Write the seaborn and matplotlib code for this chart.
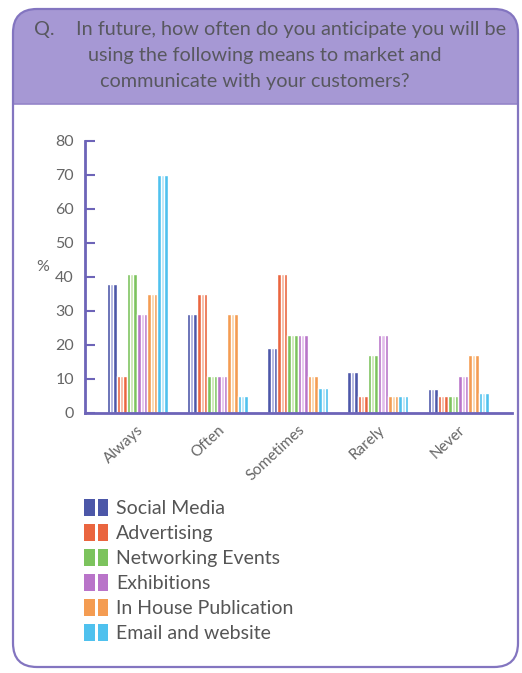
import matplotlib
matplotlib.use("Agg")
import matplotlib.pyplot as plt
from matplotlib.patches import FancyBboxPatch, Rectangle, Patch
from matplotlib.legend_handler import HandlerTuple
import seaborn as sns
import pandas as pd

# Survey answers (% of respondents)
frequencies = ["Always", "Often", "Sometimes", "Rarely", "Never"]
channels = ["Social Media", "Advertising", "Networking Events",
            "Exhibitions", "In House Publication", "Email and website"]
social_media = [38, 29, 19, 12, 7]
advertising = [11, 35, 41, 5, 5]
networking_events = [41, 11, 23, 17, 5]
exhibitions = [29, 11, 23, 23, 11]
in_house_publication = [35, 29, 11, 5, 17]
email_and_website = [70, 5, 7.5, 5, 6]
y_ticks = [0, 10, 20, 30, 40, 50, 60, 70, 80]

series = [social_media, advertising, networking_events,
          exhibitions, in_house_publication, email_and_website]
df = pd.DataFrame(
    [(f, ch, v) for ch, vals in zip(channels, series) for f, v in zip(frequencies, vals)],
    columns=["frequency", "channel", "percent"],
)

dark = ["#4c57a8", "#ea653f", "#7cc35d", "#b974c9", "#f49c52", "#4fc1ee"]
light = ["#a7acdc", "#f6b29b", "#c6e6ad", "#e2bdea", "#fad2a6", "#b1e4f8"]

sns.set_theme(style="white")
plt.rcParams["font.family"] = ["Lato", "DejaVu Sans"]

W, H = 522, 673
fig = plt.figure(figsize=(W / 100, H / 100), dpi=100)

# Background panel in pixel units
bg = fig.add_axes([0, 0, 1, 1])
bg.set_xlim(0, W)
bg.set_ylim(H, 0)
bg.axis("off")

frame_col = "#8375c0"
band_col = "#a698d4"
bg.add_patch(FancyBboxPatch((13, 9), 505, 658, boxstyle="round,pad=0,rounding_size=24",
                            fc="white", ec="none", zorder=0))
bg.add_patch(FancyBboxPatch((13, 9), 505, 150, boxstyle="round,pad=0,rounding_size=24",
                            fc=band_col, ec="none", zorder=1))
bg.add_patch(Rectangle((14, 104), 503, 80, fc="white", ec="none", zorder=2))
bg.plot([13, 518], [104, 104], color="#9585c9", lw=1.2, zorder=3)
bg.add_patch(FancyBboxPatch((13, 9), 505, 658, boxstyle="round,pad=0,rounding_size=24",
                            fc="none", ec=frame_col, lw=1.6, zorder=4))

title_col = "#58585f"
tkw = dict(fontsize=14.3, color=title_col, va="center", zorder=5)
bg.text(34, 30, "Q.", ha="left", **tkw)
bg.text(291, 30, "In future, how often do you anticipate you will be", ha="center", **tkw)
bg.text(265, 56, "using the following means to market and", ha="center", **tkw)
bg.text(255, 82, "communicate with your customers?", ha="center", **tkw)

# Main chart
ax = fig.add_axes([85 / W, 1 - 413 / H, (512 - 85) / W, (413 - 141) / H])
ax.set_facecolor("none")

sns.barplot(data=df, x="frequency", y="percent", hue="channel", order=frequencies,
            hue_order=channels, palette=dark, width=0.76, gap=0, legend=False,
            saturation=1, ax=ax)
n_solid = len(ax.patches)
sns.barplot(data=df, x="frequency", y="percent", hue="channel", order=frequencies,
            hue_order=channels, palette=light, width=0.76, gap=0, legend=False,
            saturation=1, ax=ax)
# narrow highlight stripe down the middle of each bar
for p in ax.patches[n_solid:]:
    w = p.get_width()
    p.set_x(p.get_x() + w * 0.35)
    p.set_width(w * 0.30)

ax.set_xlim(-0.648, 4.67)
ax.set_ylim(0, 80)
ax.set_yticks(y_ticks)
ax.set_yticklabels([str(t) for t in y_ticks], fontsize=11.5, color="#666666")
spine_col = "#6d64b8"
for s in ["top", "right"]:
    ax.spines[s].set_visible(False)
for s in ["left", "bottom"]:
    ax.spines[s].set_color(spine_col)
    ax.spines[s].set_linewidth(2)
ax.tick_params(axis="y", direction="in", length=7, width=1.5, color=spine_col, pad=8, left=True)
ax.tick_params(axis="x", length=0, pad=7)
ax.set_xticks(range(len(frequencies)))
ax.set_xticklabels(frequencies, rotation=43, ha="right", rotation_mode="anchor",
                   fontsize=11, color="#666666")
ax.set_xlabel("")
ax.set_ylabel("%", rotation=0, fontsize=11.5, color="#666666")
ax.yaxis.set_label_coords(-0.10, 0.51)

handles = [(Patch(fc=c, ec="none"), Patch(fc=c, ec="none")) for c in dark]
fig.legend(handles, channels, handler_map={tuple: HandlerTuple(ndivide=None, pad=0.15)},
           loc="upper left", bbox_to_anchor=(84 / W, 1 - 499 / H), frameon=False,
           prop=dict(size=14), labelcolor="#555555",
           handlelength=1.25, handleheight=0.95,
           handletextpad=0.4, labelspacing=0.36, borderpad=0, borderaxespad=0)

fig.savefig("out.png", dpi=100)
